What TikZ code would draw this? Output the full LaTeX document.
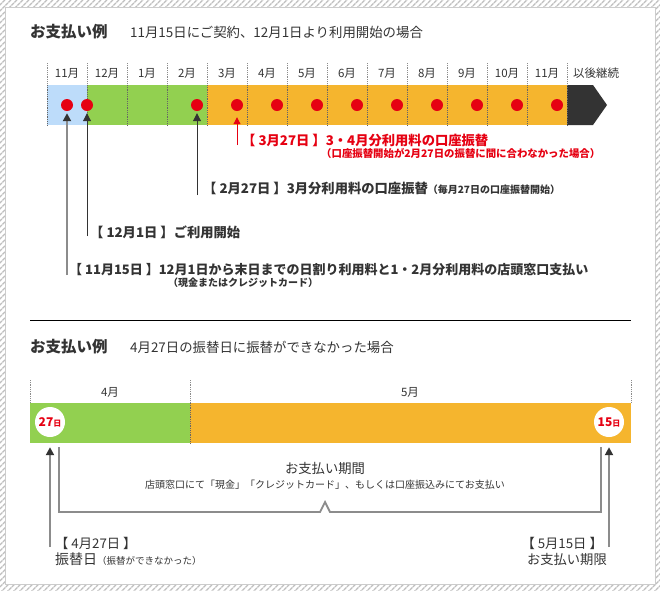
\documentclass[tikz,border=0pt]{standalone}
\usepackage{fontspec}
\setmainfont{Noto Sans CJK JP}
\usepackage{xcolor}
\usepackage{tikz}
\usetikzlibrary{positioning,arrows.meta,patterns.meta}
\definecolor{payblue}{HTML}{BDDCFA}
\definecolor{paygreen}{HTML}{92D050}
\definecolor{payorange}{HTML}{F5B52E}
\definecolor{paydark}{HTML}{333333}
\definecolor{payred}{HTML}{E60012}
\definecolor{paygray}{HTML}{8C8C8C}
\newcommand{\fs}[1]{\fontsize{#1}{#1}\selectfont}

\begin{document}
\begin{tikzpicture}[x=1pt,y=-1pt,
  every node/.style={inner sep=0pt, text=paydark},
  title/.style={anchor=west, font=\fs{15.5}\bfseries},
  subtitle/.style={anchor=west, font=\fs{13.4}},
  month/.style={font=\fs{11.5}},
  lbl/.style={anchor=west, font=\fs{13.3}\bfseries},
  note/.style={anchor=west, font=\fs{10}\bfseries},
  plain/.style={font=\fs{13.3}},
  dot/.style={circle, fill=payred, minimum size=12pt},
  daycirc/.style={circle, fill=white, minimum size=30pt, text=payred},
  sep/.style={black!45, densely dotted, line width=0.8pt},
  insep/.style={black!60, densely dotted, line width=0.8pt},
  arr/.style={-{Triangle[width=8pt,length=8pt,color=paydark]}, line width=1pt, draw=paydark, shorten >=2pt},
  garr/.style={arr, draw=paygray, line width=2pt},
  rarr/.style={-{Triangle[width=7pt,length=7pt,color=payred]}, line width=1pt, draw=payred, shorten >=6pt},
  brk/.style={draw=paygray, line width=1.8pt}
]
  \useasboundingbox (0,0) rectangle (660,590);
  \fill[pattern={Lines[angle=45,distance=4pt,line width=1.4pt]}, pattern color=black!25] (0,0) rectangle (660,590);
  \filldraw[fill=white, draw=black!20] (5,7) rectangle (655,584);

  \node[title] (head1) at (30,32) {お支払い例};
  \node[subtitle] (sub1) at (130,32) {11月15日にご契約、12月1日より利用開始の場合};

  \foreach \m [count=\i from 0] in {11月,12月,1月,2月,3月,4月,5月,6月,7月,8月,9月,10月,11月}
    \node[month] (m\i) at (67+40*\i,73) {\m};
  \node[month, anchor=west] (later) at (573,73) {以後継続};

  \fill[payblue] (47,85) rectangle (87,125);
  \fill[paygreen] (87,85) rectangle (207,125);
  \fill[payorange] (207,85) rectangle (567,125);
  \fill[paydark] (567,85) -- (593,85) -- (607,105) -- (593,125) -- (567,125) -- cycle;
  \foreach \x in {47,87,...,567} {
    \draw[sep] (\x,63) -- (\x,85);
    \draw[insep] (\x,85) -- (\x,125);
  }

  \node[dot] (d15) at (67,105) {};
  \node[dot] (d1) at (87,105) {};
  \foreach \i in {0,...,9}
    \node[dot] (p\i) at (197+40*\i,105) {};

  \node[lbl, text=payred] (t327) at (242,140) {【 3月27日 】3・4月分利用料の口座振替};
  \node[note, text=payred, font=\fs{10.4}\bfseries] (t327b) at (321,153) {（口座振替開始が2月27日の振替に間に合わなかった場合）};
  \node[lbl] (t227) at (203,188) {【 2月27日 】3月分利用料の口座振替{\fs{10}（毎月27日の口座振替開始）}};
  \node[lbl] (t121) at (90,232) {【 12月1日 】ご利用開始};
  \node[lbl, font=\fs{13}\bfseries] (t1115) at (69,270) {【 11月15日 】12月1日から末日までの日割り利用料と1・2月分利用料の店頭窓口支払い};
  \node[note] (t1115b) at (168,283) {（現金またはクレジットカード）};

  \coordinate (a327) at (237,145);
  \coordinate (a227) at (197,195);
  \coordinate (a121) at (87,236);
  \coordinate (a1115) at (67,275);
  \draw[rarr] (a327) -- (p1);
  \draw[arr] (a227) -- (p0);
  \draw[arr] (a121) -- (d1);
  \draw[garr] (a1115) -- (d15);

  \draw[black, line width=1pt] (30,320) -- (631,320);

  \node[title] (head2) at (30,347) {お支払い例};
  \node[subtitle] (sub2) at (130,347) {4月27日の振替日に振替ができなかった場合};

  \node[month] (n4) at (110,392) {4月};
  \node[month] (n5) at (410,392) {5月};
  \fill[paygreen] (30,403) rectangle (190,443);
  \fill[payorange] (190,403) rectangle (631,443);
  \foreach \x in {30,190,631}
    \draw[sep] (\x,380) -- (\x,403);
  \draw[insep] (190,403) -- (190,443);

  \node[daycirc] (c27) at (50,422) {{\fs{12}\bfseries 27}{\fs{8}\bfseries 日}};
  \node[daycirc] (c15) at (609,422) {{\fs{12}\bfseries 15}{\fs{8}\bfseries 日}};

  \coordinate (a27) at (50,547);
  \coordinate (a15) at (609,547);
  \draw[garr, shorten >=10pt] (a27) -- (c27);
  \draw[garr, shorten >=10pt] (a15) -- (c15);

  \coordinate (bl) at (59,447);
  \coordinate (br) at (601,447);
  \draw[brk] (bl) -- (59,512) -- (320,512) -- (325,502) -- (330,512) -- (601,512) -- (br);

  \node[plain] (period) at (325,468) {お支払い期間};
  \node[font=\fs{10}] (how) at (325,485) {店頭窓口にて「現金」「クレジットカード」、もしくは口座振込みにてお支払い};

  \node[plain, anchor=west] (l27) at (55,543) {【 4月27日 】};
  \node[anchor=west] (l27b) at (55,559) {{\fs{14}振替日}{\fs{9.5}（振替ができなかった）}};
  \node[plain, anchor=east] (r15) at (603,543) {【 5月15日 】};
  \node[plain, anchor=east] (r15b) at (607,559) {お支払い期限};
\end{tikzpicture}
\end{document}
